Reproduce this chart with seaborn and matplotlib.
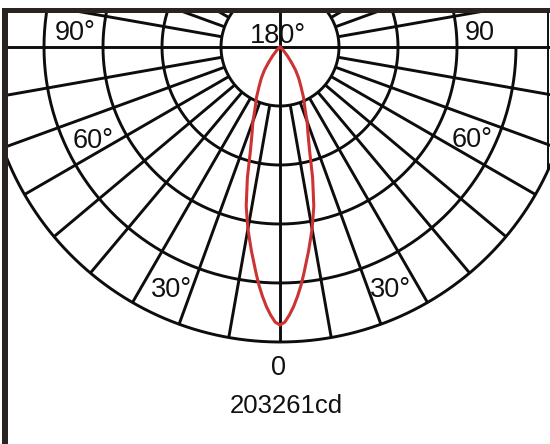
import numpy as np
import matplotlib
matplotlib.use("Agg")
import matplotlib.pyplot as plt
import seaborn as sns
from matplotlib.patches import Rectangle
from matplotlib.lines import Line2D

# ---- data ----
gamma_deg = [0, 1, 2, 3, 4, 5, 6, 8, 10, 12, 14, 16, 18, 20, 22, 25, 28, 31, 34, 37, 40, 45, 50, 60, 90]
intensity_cd = [203261, 201228, 196147, 190049, 182935, 175211, 166674, 150413, 135169,
                118908, 98582, 78256, 66060, 57929, 48783, 40652, 32522, 26424, 20326,
                13212, 8130, 3049, 1016, 0, 0]
peak_label = "203261cd"
ring_step_cd = 43140
ring_count = 5
spoke_step_deg = 10
angle_labels = [("90°", 75, 40), ("180°", 277.5, 43), ("90", 480, 40),
                ("60°", 93, 148), ("60°", 472, 147),
                ("30°", 171, 297), ("30°", 390, 297),
                ("0", 279, 375)]

sns.set_theme(style="white")
plt.rcParams["font.family"] = ["Liberation Sans", "DejaVu Sans"]

W, H = 550, 444
fig = plt.figure(figsize=(W / 100, H / 100), dpi=100)
fig.patch.set_facecolor("white")

cx, cy = 280, 47          # pole position in pixels (from top-left)
unit_px = 59              # pixels per ring step
rlim_units = 6
rad_px = rlim_units * unit_px
ax = fig.add_axes([(cx - rad_px) / W, (H - cy - rad_px) / H, 2 * rad_px / W, 2 * rad_px / H],
                  projection="polar")
ax.set_theta_zero_location("S")
ax.set_theta_direction(1)
ax.set_ylim(0, rlim_units * ring_step_cd)
ax.grid(False)
ax.set_xticks([])
ax.set_yticks([])
ax.spines["polar"].set_visible(False)
ax.set_facecolor("white")

gc = "#0d0d0d"
glw = 2.1
rings = [ring_step_cd * k for k in range(1, ring_count + 1)]
full = np.linspace(0, 2 * np.pi, 721)
for k, rv in enumerate(rings, start=1):
    if k == 4:
        th = np.linspace(np.pi, 2.5 * np.pi, 541)
    else:
        th = full
    ax.plot(th, np.full_like(th, rv), color=gc, lw=glw, solid_capstyle="butt")

for a in range(0, 360, spoke_step_deg):
    t = np.deg2rad(a)
    r0 = 0 if a % 90 == 0 else rings[0]
    ax.plot([t, t], [r0, rings[-1]], color=gc, lw=glw, solid_capstyle="butt")

# intensity curve, mirrored for both half-planes
g = np.array(gamma_deg, dtype=float)
I = np.array(intensity_cd, dtype=float)
theta = np.deg2rad(np.concatenate([-g[::-1], g[1:]]))
rvals = np.concatenate([I[::-1], I[1:]])
sns.lineplot(x=theta, y=rvals, sort=False, estimator=None, ax=ax,
             color="#cc3333", lw=2.2)
ax.set_xlabel("")
ax.set_ylabel("")
if ax.get_legend():
    ax.get_legend().remove()

# frame
def px_rect(x0, y0, x1, y1, color):
    fig.patches.append(Rectangle((x0 / W, 1 - y1 / H), (x1 - x0) / W, (y1 - y0) / H,
                                 transform=fig.transFigure, facecolor=color,
                                 edgecolor="none", zorder=2))

px_rect(0, 0, W, 8, "white")
px_rect(0, 0, 2, H, "white")
px_rect(2, 8, W, 13.5, "#2a2320")
px_rect(2, 8, 7.5, H, "#2a2320")
fig.lines.append(Line2D([548 / W, 548 / W], [1 - 13 / H, 1 - 170 / H],
                        transform=fig.transFigure, color=gc, lw=1.4, zorder=2))

for s, x, yb in angle_labels:
    fig.text(x / W, 1 - yb / H, s, ha="center", va="baseline", fontsize=19.5, color="#111111")
fig.text(286 / W, 1 - 413 / H, peak_label, ha="center", va="baseline", fontsize=18.5,
         color="#111111")

fig.savefig("out.png", dpi=100)
